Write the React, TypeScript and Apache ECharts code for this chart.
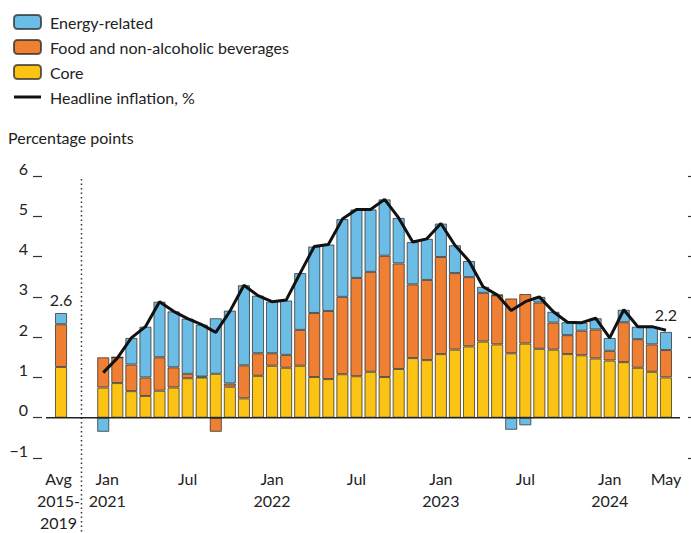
import React, { useEffect, useRef } from "react";
import * as echarts from "echarts";

const FONT = 'Lato, "Noto Sans", sans-serif';

const months: string[] = [
  "Jan 2021", "Feb 2021", "Mar 2021", "Apr 2021", "May 2021", "Jun 2021", "Jul 2021", "Aug 2021", "Sep 2021", "Oct 2021", "Nov 2021", "Dec 2021",
  "Jan 2022", "Feb 2022", "Mar 2022", "Apr 2022", "May 2022", "Jun 2022", "Jul 2022", "Aug 2022", "Sep 2022", "Oct 2022", "Nov 2022", "Dec 2022",
  "Jan 2023", "Feb 2023", "Mar 2023", "Apr 2023", "May 2023", "Jun 2023", "Jul 2023", "Aug 2023", "Sep 2023", "Oct 2023", "Nov 2023", "Dec 2023",
  "Jan 2024", "Feb 2024", "Mar 2024", "Apr 2024", "May 2024",
];

const avgCategory = "Avg 2015-2019";
const gapCategories = ["gap1", "gap2"];

// Average 2015-2019 contributions
const avgCore = 1.26;
const avgFood = 1.06;
const avgEnergy = 0.28;

const core: number[] = [
  0.75, 0.86, 0.66, 0.54, 0.67, 0.75, 0.98, 1.0, 1.09, 0.77, 0.48, 1.04,
  1.29, 1.24, 1.29, 1.01, 0.96, 1.08, 1.03, 1.14, 1.01, 1.21, 1.48, 1.43,
  1.58, 1.69, 1.77, 1.89, 1.82, 1.6, 1.84, 1.71, 1.69, 1.58, 1.55, 1.47,
  1.42, 1.38, 1.24, 1.14, 1.0,
];
const food: number[] = [
  0.75, 0.64, 0.66, 0.46, 0.83, 0.5, 0.11, 0.02, -0.35, 0.08, 0.82, 0.56,
  0.31, 0.32, 0.89, 1.59, 1.69, 1.92, 2.44, 2.48, 3.01, 2.62, 1.83, 1.99,
  2.41, 1.9, 1.72, 1.21, 1.22, 1.36, 1.23, 1.15, 0.67, 0.47, 0.61, 0.72,
  0.24, 0.99, 0.71, 0.68, 0.68,
];
const energy: number[] = [
  -0.35, 0.0, 0.66, 1.26, 1.38, 1.39, 1.37, 1.29, 1.38, 1.81, 1.99, 1.43,
  1.28, 1.35, 1.41, 1.65, 1.65, 1.93, 1.7, 1.55, 1.4, 1.13, 1.05, 1.02,
  0.83, 0.69, 0.4, 0.15, 0.01, -0.3, -0.19, 0.14, 0.27, 0.32, 0.2, 0.28,
  0.32, 0.31, 0.31, 0.44, 0.45,
];
const headline: number[] = [
  1.12, 1.48, 1.98, 2.26, 2.88, 2.64, 2.46, 2.31, 2.12, 2.64, 3.29, 3.03,
  2.88, 2.92, 3.59, 4.25, 4.3, 4.93, 5.17, 5.17, 5.42, 4.96, 4.36, 4.44,
  4.82, 4.28, 3.89, 3.25, 3.05, 2.66, 2.88, 3.0, 2.63, 2.37, 2.36, 2.47,
  1.98, 2.68, 2.26, 2.26, 2.17,
];

// x-axis tick labels
const tickLabels: Record<string, string> = {
  "Avg 2015-2019": "Avg\n2015-\n2019",
  "Jan 2021": "Jan\n2021",
  "Jul 2021": "Jul",
  "Jan 2022": "Jan\n2022",
  "Jul 2022": "Jul",
  "Jan 2023": "Jan\n2023",
  "Jul 2023": "Jul",
  "Jan 2024": "Jan\n2024",
  "May 2024": "May",
};

const yTicks = { min: -1, max: 6, interval: 1 };

const COLORS = {
  energy: "#6bbde6",
  food: "#ee7f33",
  core: "#fbc314",
  line: "#111111",
  text: "#222222",
};

const GRID = { left: 54, right: 18, top: 176, bottom: 70 };

export default function App() {
  const ref = useRef<HTMLDivElement>(null);

  useEffect(() => {
    if (!ref.current) return;
    const chart = echarts.init(ref.current, undefined, { renderer: "svg" });

    const categories = [avgCategory, ...gapCategories, ...months];
    const pad = (arr: number[]) => [null, null, ...arr];
    const totalAvg = avgCore + avgFood + avgEnergy;

    const barItemStyle = (color: string) => ({
      color,
      borderColor: "rgba(35,35,35,0.7)",
      borderWidth: 1,
    });

    const lastIdx = headline.length - 1;
    const headlineData: any[] = [null, null, null, ...headline.map((v, i) =>
      i === lastIdx
        ? {
            value: v,
            label: {
              show: true,
              position: "top",
              distance: 8,
              formatter: () => v.toFixed(1),
              fontSize: 16,
              color: COLORS.text,
              fontFamily: FONT,
            },
          }
        : v
    )];

    const xData = categories.map((c) => {
      if (c === avgCategory) return { value: c, textStyle: { padding: [0, 5, 0, 0] } };
      if (c === "Jan 2021") return { value: c, textStyle: { padding: [0, 0, 0, 8] } };
      return c;
    });

    const yAxisBase = {
      type: "value",
      min: yTicks.min,
      max: yTicks.max,
      interval: yTicks.interval,
      splitLine: { show: false },
      axisLine: { show: false },
    };

    chart.setOption({
      animation: false,
      textStyle: { fontFamily: FONT },
      title: {
        text: "Percentage points",
        left: 8,
        top: 129,
        padding: 0,
        textStyle: { fontSize: 16, fontWeight: "normal", color: COLORS.text, fontFamily: FONT },
      },
      legend: {
        orient: "vertical",
        left: 13,
        top: 14,
        padding: 0,
        itemWidth: 27,
        itemHeight: 14,
        itemGap: 9,
        selectedMode: false,
        textStyle: { fontSize: 16, color: COLORS.text, fontFamily: FONT, padding: [0, 0, 0, 4], lineHeight: 16 },
        data: [
          { name: "Energy-related" },
          { name: "Food and non-alcoholic beverages" },
          { name: "Core" },
          { name: "Headline inflation, %", icon: "path://M0,0H27V3H0Z", itemStyle: { color: COLORS.line, borderWidth: 0 } },
        ],
      },
      grid: { ...GRID, containLabel: false },
      xAxis: {
        type: "category",
        data: xData,
        boundaryGap: true,
        axisLine: { show: false },
        axisTick: { show: false },
        axisLabel: {
          interval: 0,
          margin: 9,
          fontSize: 16,
          lineHeight: 22,
          color: COLORS.text,
          fontFamily: FONT,
          formatter: (v: string) => tickLabels[v] || "",
        },
      },
      yAxis: [
        {
          ...yAxisBase,
          position: "left",
          offset: 12,
          axisTick: { show: true, length: 9, lineStyle: { color: "#333", width: 1.2 } },
          axisLabel: {
            margin: 14,
            fontSize: 16,
            color: COLORS.text,
            fontFamily: FONT,
            verticalAlign: "bottom",
            formatter: (v: number) => (v < 0 ? "\u2212" + Math.abs(v) : String(v)),
          },
        },
        {
          ...yAxisBase,
          position: "right",
          offset: 15,
          axisTick: { show: true, length: 5, lineStyle: { color: "#333", width: 1.2 } },
          axisLabel: { show: false },
        },
      ],
      series: [
        {
          name: "Core",
          type: "bar",
          stack: "total",
          barCategoryGap: "14%",
          itemStyle: barItemStyle(COLORS.core),
          data: [avgCore, ...pad(core)],
        },
        {
          name: "Food and non-alcoholic beverages",
          type: "bar",
          stack: "total",
          barCategoryGap: "14%",
          itemStyle: barItemStyle(COLORS.food),
          data: [avgFood, ...pad(food)],
        },
        {
          name: "Energy-related",
          type: "bar",
          stack: "total",
          barCategoryGap: "14%",
          itemStyle: barItemStyle(COLORS.energy),
          data: [
            {
              value: avgEnergy,
              label: {
                show: true,
                position: "top",
                distance: 5,
                formatter: () => totalAvg.toFixed(1),
                fontSize: 16,
                color: COLORS.text,
                fontFamily: FONT,
              },
            },
            ...pad(energy),
          ],
        },
        {
          name: "Headline inflation, %",
          type: "line",
          data: headlineData,
          symbol: "circle",
          symbolSize: 0,
          showSymbol: true,
          connectNulls: false,
          z: 10,
          itemStyle: { color: COLORS.line },
          lineStyle: { color: COLORS.line, width: 3 },
        },
      ],
    });

    // dotted separator between the average bar and the monthly bars; zero baseline
    const xa = chart.convertToPixel({ xAxisIndex: 0 }, gapCategories[0]) as number;
    const xb = chart.convertToPixel({ xAxisIndex: 0 }, gapCategories[1]) as number;
    const yTop = chart.convertToPixel({ yAxisIndex: 0 }, yTicks.max) as number;
    const yZero = chart.convertToPixel({ yAxisIndex: 0 }, 0) as number;
    const sepX = Math.round((xa + xb) / 2) - 0.5;
    const W = chart.getWidth();
    chart.setOption({
      graphic: [
        {
          type: "line",
          shape: { x1: sepX, y1: yTop + 3, x2: sepX, y2: chart.getHeight() },
          style: { stroke: "#333", lineWidth: 1.5, lineDash: [1.5, 3] },
          silent: true,
        },
        {
          type: "line",
          shape: { x1: GRID.left - 8, y1: yZero, x2: W - GRID.right + 7, y2: yZero },
          style: { stroke: "#222", lineWidth: 1.5 },
          silent: true,
          z: 5,
        },
      ],
    });

    return () => chart.dispose();
  }, []);

  return (
    <div
      ref={ref}
      style={{ position: "fixed", left: 0, top: 0, width: 691, height: 533, background: "#fff" }}
    />
  );
}
